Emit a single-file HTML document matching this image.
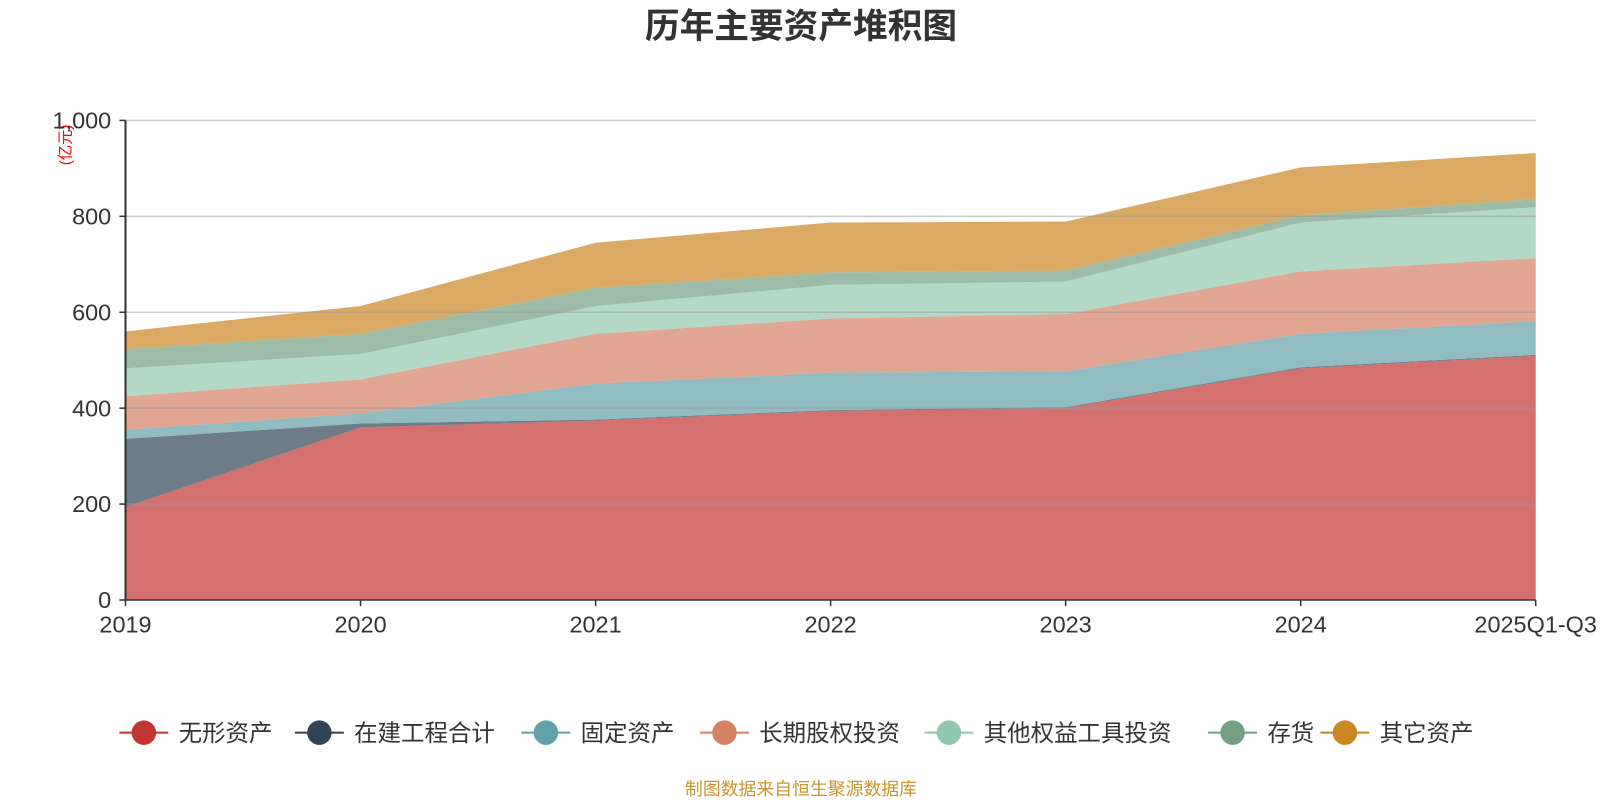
<!DOCTYPE html>
<html><head><meta charset="utf-8">
<style>
body{margin:0;background:#fff;font-family:"Liberation Sans","Noto Sans CJK SC",sans-serif;}
#outer{position:relative;width:1600px;height:800px;overflow:hidden;}
#wrap{position:absolute;left:0;top:0;width:1600px;height:800px;transform:scale(1.0204);transform-origin:0 0;}
.leg{position:absolute;top:704px;height:28px;font-size:23px;color:#333;line-height:28px;white-space:nowrap;}
.leg .ln{position:absolute;left:-24px;top:13px;width:48px;height:2px;}
.leg .dot{position:absolute;left:-12px;top:2px;width:24px;height:24px;border-radius:50%;}
.leg span{position:absolute;left:34px;top:0;}
</style></head><body>
<div id="outer">
<div id="wrap">
<svg id="svg" width="1600" height="800" style="position:absolute;left:0;top:0">
<text x="785" y="37" text-anchor="middle" font-size="34" font-weight="bold" fill="#333" font-family="Liberation Sans, Noto Sans CJK SC, sans-serif">历年主要资产堆积图</text>
<text transform="translate(69,142) rotate(-90)" text-anchor="middle" font-size="15" fill="#ff0000" font-family="Liberation Sans, Noto Sans CJK SC, sans-serif">(亿元)</text>
<g id="areas"></g><g id="grid"></g><g id="axes"></g>
<text x="785" y="779" text-anchor="middle" font-size="17.5" fill="#c9952d" font-family="Liberation Sans, Noto Sans CJK SC, sans-serif">制图数据来自恒生聚源数据库</text>
</svg>
<div id="legend"></div>
</div>
</div>
<script>
const categories=["2019","2020","2021","2022","2023","2024","2025Q1-Q3"];
const seriesNames=["无形资产","在建工程合计","固定资产","长期股权投资","其他权益工具投资","存货","其它资产"];
const s0=[194,360,374,394,400,483,509];
const s1=[142,8,2,2,2,2,2];
const s2=[19,21,75,78,75,70,70];
const s3=[70,71,104,113,119,130,132];
const s4=[58,53,58,70,68,102,106];
const s5=[40,42,38,26,23,15,17];
const s6=[37,58,94,104,102,100,96];
const yTicks=[0,200,400,600,800,1000];
const yTickLabels=["0","200","400","600","800","1,000"];
const series=[s0,s1,s2,s3,s4,s5,s6];
const colors=["#c23531","#2f4554","#61a0a8","#d48265","#91c7ae","#749f83","#ca8622"];
const X0=123,X1=1505,Y0=588,Y1=118,YMAX=1000;
const xs=i=>X0+(X1-X0)*i/(categories.length-1);
const ys=v=>Y0-(Y0-Y1)*v/YMAX;
const NS="http://www.w3.org/2000/svg";
const areas=document.getElementById('areas'),grid=document.getElementById('grid'),axes=document.getElementById('axes');
let base=categories.map(()=>0);
series.forEach((s,k)=>{
  const top=base.map((b,i)=>b+s[i]);
  let d="M"+top.map((v,i)=>xs(i)+","+ys(v)).join("L");
  for(let i=categories.length-1;i>=0;i--)d+="L"+xs(i)+","+ys(base[i]);
  d+="Z";
  const p=document.createElementNS(NS,'path');
  p.setAttribute('d',d);p.setAttribute('fill',colors[k]);p.setAttribute('fill-opacity','0.7');
  
  
  areas.appendChild(p);
  base=top;
});
yTicks.forEach((t,i)=>{
  const y=ys(t);
  const l=document.createElementNS(NS,'line');
  l.setAttribute('x1',X0);l.setAttribute('x2',X1);l.setAttribute('y1',y);l.setAttribute('y2',y);
  l.setAttribute('stroke',t===0?'#333':'#999');l.setAttribute('stroke-opacity',t===0?'1':'0.5');l.setAttribute('stroke-width','1.5');
  
  
  grid.appendChild(l);
  const tk=document.createElementNS(NS,'line');
  tk.setAttribute('x1',X0-6);tk.setAttribute('x2',X0);tk.setAttribute('y1',y);tk.setAttribute('y2',y);tk.setAttribute('stroke','#333');tk.setAttribute('stroke-width','1.5');
  axes.appendChild(tk);
  const tx=document.createElementNS(NS,'text');
  tx.setAttribute('x',X0-14);tx.setAttribute('y',y+8);tx.setAttribute('text-anchor','end');tx.setAttribute('font-size','23');tx.setAttribute('fill','#333');
  tx.textContent=yTickLabels[i];
  
  
  axes.appendChild(tx);
});
const ya=document.createElementNS(NS,'line');
ya.setAttribute('x1',X0);ya.setAttribute('x2',X0);ya.setAttribute('y1',Y1);ya.setAttribute('y2',Y0);ya.setAttribute('stroke','#333');ya.setAttribute('stroke-width','2');


axes.appendChild(ya);
categories.forEach((c,i)=>{
  const x=xs(i);
  const tk=document.createElementNS(NS,'line');
  tk.setAttribute('x1',x);tk.setAttribute('x2',x);tk.setAttribute('y1',Y0);tk.setAttribute('y2',Y0+6);tk.setAttribute('stroke','#333');tk.setAttribute('stroke-width','1.5');
  axes.appendChild(tk);
  const tx=document.createElementNS(NS,'text');
  tx.setAttribute('x',x);tx.setAttribute('y',Y0+32);tx.setAttribute('text-anchor','middle');tx.setAttribute('font-size','23');tx.setAttribute('fill','#333');
  tx.textContent=c;
  
  
  axes.appendChild(tx);
});
const legX=[141,313,535,710,930,1208,1318];
const leg=document.getElementById('legend');
seriesNames.forEach((n,k)=>{
  const d=document.createElement('div');d.className='leg';d.style.left=legX[k]+'px';
  d.innerHTML='<div class="ln" style="background:'+colors[k]+'"></div><div class="dot" style="background:'+colors[k]+'"></div><span>'+n+'</span>';
  
  
  leg.appendChild(d);
});
</script>
</body></html>
